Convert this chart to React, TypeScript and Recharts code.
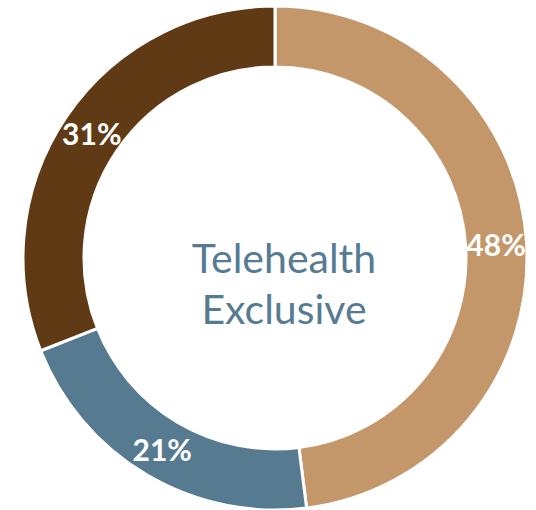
import React from 'react';
import { PieChart, Pie, Cell } from 'recharts';

const segments = ['Segment A', 'Segment B', 'Segment C'];
const shares = [48, 21, 31];
const colors = ['#C4976A', '#567A8F', '#5F3A14'];
const centerLines = ['Telehealth', 'Exclusive'];

const data = segments.map((name, i) => ({ name, value: shares[i] }));

const RADIAN = Math.PI / 180;

const renderLabel = (props: any) => {
    const { cx, cy, midAngle, innerRadius, outerRadius, value } = props;
    const r = (innerRadius + outerRadius) / 2;
    const x = cx + r * Math.cos(-midAngle * RADIAN);
    const y = cy + r * Math.sin(-midAngle * RADIAN);
    return (
        <text x={x} y={y} fill="#ffffff" textAnchor="middle" dominantBaseline="central"
            fontFamily="Lato, sans-serif" fontWeight={700} fontSize={30}>
            {`${value}%`}
        </text>
    );
};

const App: React.FC = () => {
    return (
        <div style={{ position: 'absolute', left: 0, top: 0 }}>
            <PieChart width={536} height={510} margin={{ top: 0, right: 0, bottom: 0, left: 0 }}>
                <Pie data={data} dataKey="value" nameKey="name" cx={275} cy={258}
                    innerRadius={191} outerRadius={252} startAngle={90} endAngle={-270}
                    stroke="#ffffff" strokeWidth={3} label={renderLabel} labelLine={false}
                    isAnimationActive={false}>
                    {data.map((d, i) => <Cell key={d.name} fill={colors[i]} />)}
                </Pie>
                <text x={284} y={273} textAnchor="middle" fill="#567B92" fontFamily="Lato, sans-serif" fontSize={41}>
                    {centerLines[0]}
                </text>
                <text x={284} y={324} textAnchor="middle" fill="#567B92" fontFamily="Lato, sans-serif" fontSize={41}>
                    {centerLines[1]}
                </text>
            </PieChart>
        </div>
    );
};

export default App;
